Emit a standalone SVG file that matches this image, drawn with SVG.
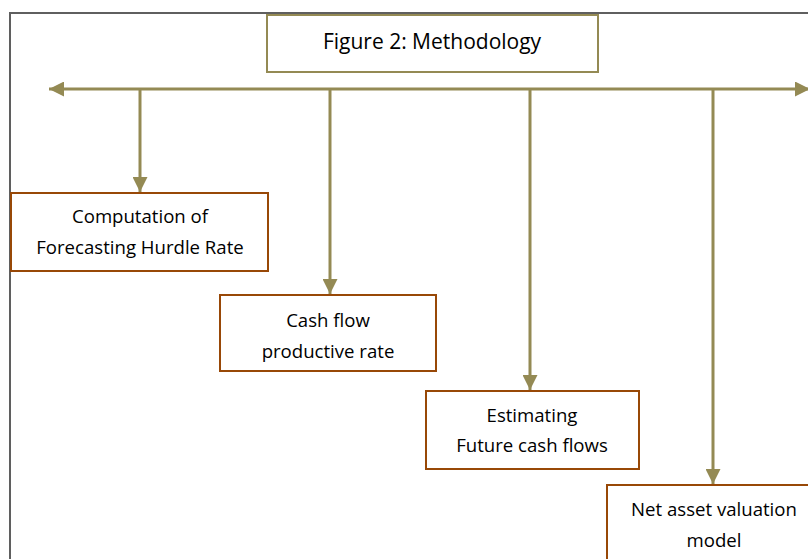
<svg xmlns="http://www.w3.org/2000/svg" width="808" height="559" viewBox="0 0 808 559">
  <style>
    .frame { fill: #ffffff; stroke: #5f5f5f; stroke-width: 2; }
    .title { fill: #ffffff; stroke: #948a54; stroke-width: 2; }
    .box { fill: #ffffff; stroke: #984807; stroke-width: 2; }
    .conn { fill: none; stroke: #948a54; stroke-width: 3; }
    text { font-family: "Open Sans", "Noto Sans", "Liberation Sans", sans-serif; font-size: 18.6px; fill: #000000; text-anchor: middle; }
    .big { font-size: 21px; }
  </style>
  <defs>
    <marker id="arrow" viewBox="0 0 10 10" refX="10" refY="5" markerUnits="userSpaceOnUse" markerWidth="16" markerHeight="15" orient="auto-start-reverse">
      <path d="M0,0 L10,5 L0,10 Z" fill="#948a54"/>
    </marker>
  </defs>

  <rect width="808" height="559" fill="#ffffff"/>
  <rect class="frame" x="10" y="13" width="820" height="580"/>

  <g id="title">
    <rect class="title" x="267" y="15" width="331" height="57"/>
    <text class="big" x="432" y="49">Figure 2: Methodology</text>
  </g>

  <g id="connectors">
    <line class="conn" x1="49" y1="89" x2="810" y2="89" marker-start="url(#arrow)" marker-end="url(#arrow)"/>
    <line class="conn" x1="140" y1="89" x2="140" y2="192" marker-end="url(#arrow)"/>
    <line class="conn" x1="330" y1="89" x2="330" y2="294" marker-end="url(#arrow)"/>
    <line class="conn" x1="530" y1="89" x2="530" y2="390" marker-end="url(#arrow)"/>
    <line class="conn" x1="713" y1="89" x2="713" y2="484" marker-end="url(#arrow)"/>
  </g>

  <g id="node-hurdle-rate">
    <rect class="box" x="11" y="193" width="257" height="78"/>
    <text x="140" y="223">Computation of</text>
    <text x="140" y="254">Forecasting Hurdle Rate</text>
  </g>

  <g id="node-cash-flow">
    <rect class="box" x="220" y="295" width="216" height="76"/>
    <text x="328" y="327">Cash flow</text>
    <text x="328" y="358">productive rate</text>
  </g>

  <g id="node-future-cash">
    <rect class="box" x="426" y="391" width="213" height="78"/>
    <text x="532" y="422">Estimating</text>
    <text x="532" y="452">Future cash flows</text>
  </g>

  <g id="node-net-asset">
    <rect class="box" x="607" y="485" width="220" height="90"/>
    <text x="714" y="516">Net asset valuation</text>
    <text x="714" y="547">model</text>
  </g>
</svg>
